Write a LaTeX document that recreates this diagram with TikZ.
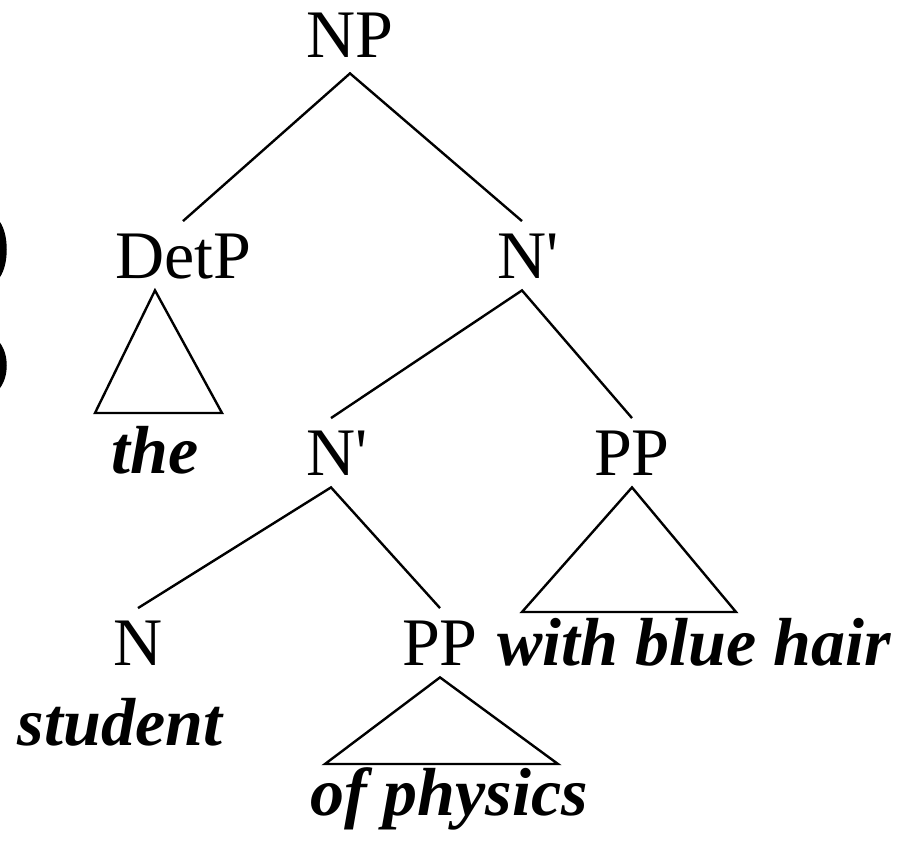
\documentclass[tikz,border=0pt]{standalone}
\usepackage{fontspec}
\setmainfont{Liberation Serif}
\usetikzlibrary{calc}

\tikzset{
  cat/.style={font=\fontsize{34}{40}\selectfont, anchor=base, inner sep=6pt, text depth=0pt},
  word/.style={font=\fontsize{34}{40}\selectfont\bfseries\itshape, anchor=base, inner sep=0pt},
  branch/.style={line width=1.2pt, line join=miter},
}
% N-bar: the tick does not move the node centre
\newcommand{\nbar}{N\rlap{\textquotesingle}}

\begin{document}
\begin{tikzpicture}[x=0.5pt, y=-0.5pt]
    \useasboundingbox (0,0) rectangle (907,841);

    % cut-off marks at the left edge
    \fill (0,222) .. controls (9,235) and (9,264) .. (0,277) -- cycle;
    \fill (0,343) .. controls (9,355) and (9,376) .. (0,388) -- cycle;

    % categories
    \node[cat, inner sep=8pt] (NP) at (350,57) {NP};
    \node[cat] (DetP) at (183,278) {DetP};
    \node[cat] (N1) at (522,278) {\nbar};
    \node[cat] (N2) at (331,475) {\nbar};
    \node[cat] (PP1) at (632,475) {PP};
    \node[cat] (N) at (138,665) {N};
    \node[cat] (PP2) at (440,665) {PP};

    % words
    \node[word] (the) at (155,473) {the};
    \node[word] (hair) at (694,665) {with blue hair};
    \node[word] (student) at (120,745) {student};
    \node[word] (physics) at (449,815) {of physics};

    % branches
    \draw[branch] (DetP.north) -- (NP.south) -- (N1.north);
    \draw[branch] (N2.north) -- (N1.south) -- (PP1.north);
    \draw[branch] (N.north) -- (N2.south) -- (PP2.north);

    % triangles
    \coordinate (t1a) at (the.north |- DetP.south);
    \coordinate (t1l) at (95,413);
    \coordinate (t1r) at (222,413);
    \draw[branch] (t1a) -- (t1l) -- (t1r) -- cycle;
    \coordinate (t2l) at (522,612);
    \coordinate (t2r) at (736,612);
    \draw[branch] (PP1.south) -- (t2l) -- (t2r) -- cycle;
    \coordinate (t3l) at (325,764);
    \coordinate (t3r) at (558,764);
    \draw[branch] (PP2.south) -- (t3l) -- (t3r) -- cycle;
\end{tikzpicture}
\end{document}
